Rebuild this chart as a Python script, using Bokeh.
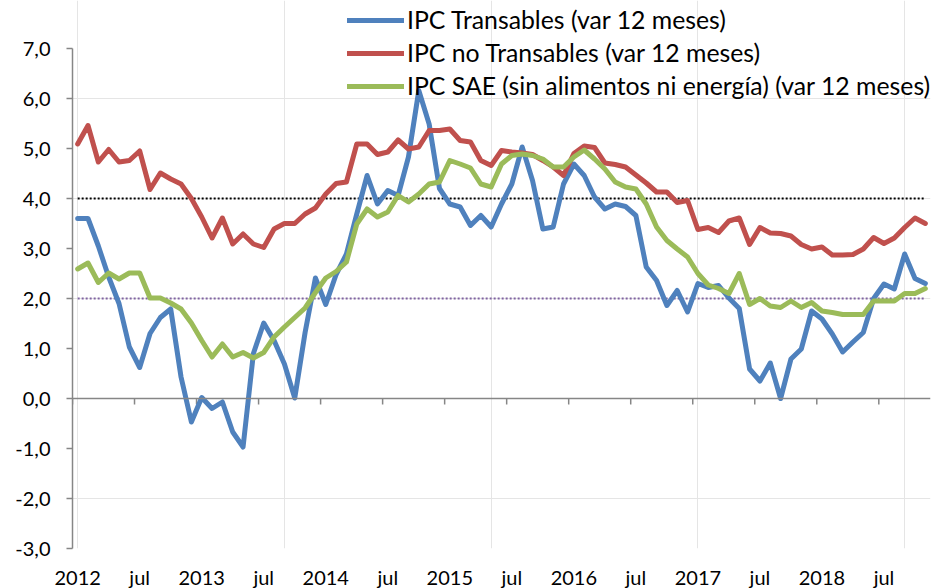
from bokeh.plotting import figure
from bokeh.models import Range1d, LinearAxis, FixedTicker, Legend, LegendItem, Span
from bokeh.embed import file_html
from bokeh.resources import INLINE

# Monthly data, Jan 2012 .. Nov 2018 (83 months)
months = list(range(83))

ipc_transables = [
    3.60, 3.60, 3.05, 2.43, 1.90, 1.03, 0.62, 1.30, 1.62, 1.79, 0.43, -0.47,
    0.02, -0.20, -0.07, -0.67, -0.97, 0.90, 1.51, 1.16, 0.69, 0.01, 1.32, 2.41,
    1.88, 2.48, 2.89, 3.69, 4.46, 3.89, 4.16, 4.06, 4.83, 6.16, 5.49, 4.20,
    3.89, 3.83, 3.46, 3.66, 3.43, 3.89, 4.29, 5.03, 4.36, 3.39, 3.43, 4.29,
    4.69, 4.46, 4.03, 3.79, 3.89, 3.84, 3.66, 2.63, 2.36, 1.86, 2.16, 1.73,
    2.30, 2.22, 2.26, 2.01, 1.80, 0.59, 0.35, 0.71, 0.00, 0.79, 0.99, 1.75,
    1.59, 1.29, 0.93, 1.13, 1.32, 2.00, 2.29, 2.19, 2.89, 2.40, 2.30,
]
ipc_no_transables = [
    5.09, 5.46, 4.73, 4.98, 4.73, 4.76, 4.95, 4.18, 4.51, 4.39, 4.29, 4.00,
    3.63, 3.21, 3.61, 3.09, 3.29, 3.09, 3.02, 3.39, 3.50, 3.50, 3.69, 3.81,
    4.09, 4.30, 4.33, 5.09, 5.09, 4.88, 4.93, 5.17, 4.99, 5.03, 5.36, 5.36,
    5.39, 5.16, 5.13, 4.76, 4.66, 4.96, 4.93, 4.91, 4.88, 4.76, 4.63, 4.46,
    4.90, 5.05, 5.02, 4.71, 4.68, 4.63, 4.47, 4.31, 4.13, 4.13, 3.92, 3.96,
    3.38, 3.42, 3.32, 3.55, 3.61, 3.08, 3.42, 3.31, 3.30, 3.25, 3.08, 2.99,
    3.03, 2.87, 2.87, 2.88, 2.99, 3.22, 3.10, 3.21, 3.42, 3.61, 3.50,
]
ipc_sae = [
    2.59, 2.71, 2.32, 2.51, 2.39, 2.51, 2.51, 2.01, 2.01, 1.91, 1.79, 1.51,
    1.16, 0.83, 1.09, 0.83, 0.92, 0.81, 0.92, 1.23, 1.43, 1.62, 1.81, 2.12,
    2.41, 2.54, 2.73, 3.49, 3.79, 3.63, 3.73, 4.06, 3.93, 4.09, 4.29, 4.33,
    4.76, 4.69, 4.61, 4.29, 4.23, 4.69, 4.86, 4.89, 4.86, 4.79, 4.63, 4.63,
    4.83, 4.97, 4.79, 4.59, 4.33, 4.23, 4.19, 3.89, 3.43, 3.16, 2.99, 2.83,
    2.50, 2.27, 2.20, 2.10, 2.50, 1.88, 2.00, 1.85, 1.82, 1.95, 1.82, 1.92,
    1.75, 1.72, 1.68, 1.68, 1.68, 1.95, 1.95, 1.95, 2.10, 2.10, 2.20,
]
band_upper = [4.0] * 83
band_lower = [2.0] * 83

x_tick_idx = [0, 6, 12, 18, 24, 30, 36, 42, 48, 54, 60, 66, 72, 78]
x_tick_labels = ["2012", "jul", "2013", "jul", "2014", "jul", "2015", "jul",
                 "2016", "jul", "2017", "jul", "2018", "jul"]
y_ticks = [-3, -2, -1, 0, 1, 2, 3, 4, 5, 6, 7]
y_tick_labels = ["-3,0", "-2,0", "-1,0", "0,0", "1,0", "2,0", "3,0",
                 "4,0", "5,0", "6,0", "7,0"]

series_names = ["IPC Transables (var 12 meses)",
                "IPC no Transables (var 12 meses)",
                "IPC SAE (sin alimentos ni energía) (var 12 meses)"]
colors = ["#4F81BD", "#C0504D", "#9BBB59"]
FONT = "Lato"
AXIS_COLOR = "#868686"

p = figure(frame_width=858, frame_height=548,
           output_backend="svg", toolbar_location=None,
           x_range=Range1d(-0.5, 82.5), y_range=Range1d(-3, 7.96),
           x_axis_location=None, y_axis_location=None,
           min_border_left=72, min_border_right=5,
           min_border_top=0, min_border_bottom=40)
p.outline_line_color = None
p.background_fill_color = "white"
p.border_fill_color = "white"

# y axis
yaxis = LinearAxis(ticker=FixedTicker(ticks=y_ticks), bounds=(-3, 7),
                   major_label_overrides={t: l for t, l in zip(y_ticks, y_tick_labels)},
                   axis_line_color=AXIS_COLOR, axis_line_width=1.5,
                   major_tick_line_color=AXIS_COLOR, major_tick_line_width=1.5,
                   major_tick_out=6, major_tick_in=0,
                   minor_tick_line_color=None,
                   major_label_standoff=16,
                   major_label_text_font=FONT,
                   major_label_text_font_size="20px",
                   major_label_text_color="black")
p.add_layout(yaxis, "left")

# x labels at bottom
xaxis = LinearAxis(ticker=FixedTicker(ticks=x_tick_idx),
                   major_label_overrides={t: l for t, l in zip(x_tick_idx, x_tick_labels)},
                   axis_line_color=None, major_tick_line_color=None,
                   minor_tick_line_color=None, major_tick_out=0, major_tick_in=0,
                   major_label_standoff=16,
                   major_label_text_font=FONT,
                   major_label_text_font_size="20px",
                   major_label_text_color="black")
p.add_layout(xaxis, "below")

# zero line with category-boundary ticks
p.add_layout(Span(location=0, dimension="width", line_color=AXIS_COLOR, line_width=1.5))
tick_pos = [i - 0.5 for i in x_tick_idx]
p.segment(x0=tick_pos, y0=[0] * len(tick_pos), x1=tick_pos, y1=[-0.12] * len(tick_pos),
          line_color=AXIS_COLOR, line_width=1.5)

# reference bands
p.line(months, band_upper, line_color="black", line_width=2, line_dash="2 2")
p.line(months, band_lower, line_color="#8064A2", line_width=2, line_dash="2 2")

renderers = []
for ys, c in zip([ipc_transables, ipc_no_transables, ipc_sae], colors):
    r = p.line(months, ys, line_color=c, line_width=5, line_join="round", line_cap="round")
    renderers.append(r)

legend = Legend(items=[LegendItem(label=n, renderers=[r]) for n, r in zip(series_names, renderers)],
                location=(275, 448), orientation="vertical",
                border_line_color=None, background_fill_alpha=0,
                padding=0, margin=0, spacing=4,
                glyph_width=57, glyph_height=20, label_height=20,
                label_standoff=3, label_text_font=FONT,
                label_text_font_size="24.8px", label_text_color="black")
p.add_layout(legend, "center")

open("out.html", "w").write(file_html(p, INLINE))
